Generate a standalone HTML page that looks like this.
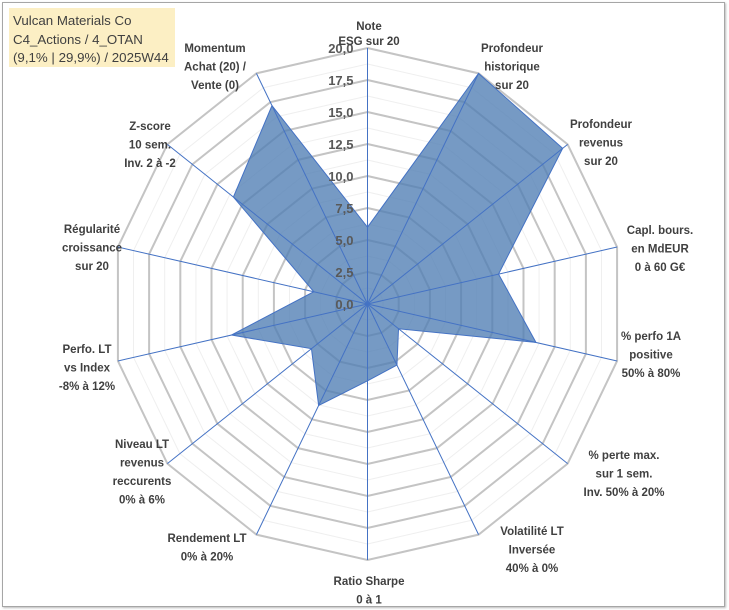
<!DOCTYPE html>
<html><head><meta charset="utf-8">
<style>
html,body{margin:0;padding:0;background:#fff;}
#wrap{position:relative;width:729px;height:610px;overflow:hidden;font-family:"Liberation Sans",sans-serif;}
#frame{position:absolute;left:2px;top:2px;width:721px;height:603px;border:1px solid #a6a6a6;box-shadow:1px 1px 2px #bbb;}
#title{position:absolute;left:9px;top:8px;width:166px;height:59px;background:#fcefc4;color:#404040;font-size:13.3px;line-height:18.5px;padding:4px 0 0 4px;box-sizing:border-box;white-space:nowrap;}
svg{position:absolute;left:0;top:0;}
.lab{font-weight:bold;font-size:11.5px;fill:#404040;text-anchor:middle;}
.tick{font-weight:bold;font-size:13px;fill:#595959;text-anchor:end;}
</style></head><body>
<div id="wrap">
<div id="frame"></div>
<svg id="chart" width="729" height="610"></svg>
<div id="title">Vulcan Materials Co<br>C4_Actions / 4_OTAN<br>(9,1% | 29,9%) / 2025W44</div>
</div>
<script>
const categories = [
 ["Note","ESG sur 20"],
 ["Profondeur","historique","sur 20"],
 ["Profondeur","revenus","sur 20"],
 ["Capl. bours.","en MdEUR","0 à 60 G€"],
 ["% perfo 1A","positive","50% à 80%"],
 ["% perte max.","sur 1 sem.","Inv. 50% à 20%"],
 ["Volatilité LT","Inversée","40% à 0%"],
 ["Ratio Sharpe","0 à 1"],
 ["Rendement LT","0% à 20%"],
 ["Niveau LT","revenus","reccurents","0% à 6%"],
 ["Perfo. LT","vs Index","-8% à 12%"],
 ["Régularité","croissance","sur 20"],
 ["Z-score","10 sem.","Inv. 2 à -2"],
 ["Momentum","Achat (20) /","Vente (0)"]
];
const values = [6, 20, 19.5, 10.5, 13.5, 3.1, 5.3, 6, 8.8, 5.6, 10.9, 4.3, 13.4, 17.2];
const tickValues = [0, 2.5, 5, 7.5, 10, 12.5, 15, 17.5, 20];
const tickLabels = ["0,0","2,5","5,0","7,5","10,0","12,5","15,0","17,5","20,0"];

const NS="http://www.w3.org/2000/svg";
const svg=document.getElementById('chart');
const cx=367.5, cy=304, R=256, maxV=20;
const N=categories.length;
function ang(i){return -Math.PI/2 + i*2*Math.PI/N;}
function rScale(v){return v/maxV*R;}
function pt(i,v){const a=ang(i),r=rScale(v);return [cx+r*Math.cos(a), cy+r*Math.sin(a)];}
function mk(tag,attrs){const e=document.createElementNS(NS,tag);for(const k in attrs)e.setAttribute(k,attrs[k]);svg.appendChild(e);return e;}

for(let k=0;k<tickValues.length-1;k++){
  const v=(tickValues[k]+tickValues[k+1])/2;
  const p=categories.map((c,i)=>pt(i,v).join(',')).join(' ');
  const g=mk('polygon',{points:p,fill:'none',stroke:'#efefef','stroke-width':1});
  
  
}
tickValues.forEach(v=>{
  if(v===0)return;
  const p=categories.map((c,i)=>pt(i,v).join(',')).join(' ');
  const g=mk('polygon',{points:p,fill:'none',stroke:'#c4c4c4','stroke-width':2});
  
  
});
const sp=values.map((v,i)=>pt(i,v).join(',')).join(' ');
const area=mk('polygon',{points:sp,fill:'#4f7eb3','fill-opacity':0.78,stroke:'#4472c4','stroke-width':1});


categories.forEach((c,i)=>{
  const [x,y]=pt(i,maxV);
  const l=mk('line',{x1:cx,y1:cy,x2:x,y2:y,stroke:'#4472c4','stroke-width':1});
  
  
});
tickValues.forEach((v,k)=>{
  const t=mk('text',{x:cx-14,y:cy-rScale(v)+5,class:'tick'});
  t.textContent=tickLabels[k];
  
  
});
const labelPos=[[369,30],[512,52],[601,128],[660,234],[651,340],[624,459],[532,535],[369,585],[207,542],[142,448],[87,353],[92,233],[150,130],[215,52]];
categories.forEach((lines,i)=>{
  const t=mk('text',{x:labelPos[i][0],y:labelPos[i][1],class:'lab'});
  
  
  const step = i===0 ? 15 : 18.5;
  lines.forEach((s,j)=>{
    const ts=document.createElementNS(NS,'tspan');
    ts.setAttribute('x',labelPos[i][0]);
    ts.setAttribute('dy',j===0?0:step);
    ts.textContent=s;
    t.appendChild(ts);
  });
});
</script>
</body></html>
